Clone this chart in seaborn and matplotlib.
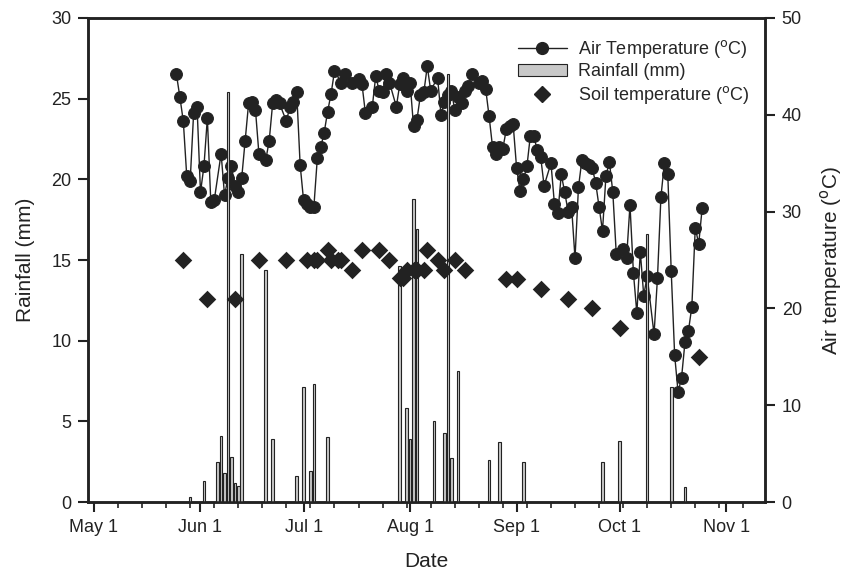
import numpy as np
import pandas as pd
import matplotlib
matplotlib.use('Agg')
import matplotlib.pyplot as plt
import seaborn as sns
from matplotlib.lines import Line2D
from matplotlib.patches import Patch

# Days counted from May 1
month_days = [0, 31, 61, 92, 123, 153, 184]
month_labels = ['May 1', 'Jun 1', 'Jul 1', 'Aug 1', 'Sep 1', 'Oct 1', 'Nov 1']

# Air temperature (left scale)
air_day = [24, 25, 26, 27, 28, 29, 30, 31, 32, 33, 34, 35, 37, 38, 39, 40, 41, 42, 43, 44,
           45, 46, 47, 48, 50, 51, 52, 53, 54, 56, 57, 58, 59, 60, 61, 62, 63, 64, 65, 66,
           67, 68, 69, 70, 72, 73, 75, 77, 78, 79, 81, 82, 83, 84, 85, 86, 88, 89, 90, 91,
           92, 93, 94, 95, 96, 97, 98, 100, 101, 102, 103, 104, 105, 106, 107, 108, 109, 110, 112, 113,
           114, 115, 116, 117, 118, 119, 120, 121, 122, 123, 124, 125, 126, 127, 128, 129, 130, 131, 133, 134,
           135, 136, 137, 138, 139, 140, 141, 142, 143, 144, 145, 146, 147, 148, 149, 150, 151, 152, 154, 155,
           156, 157, 158, 159, 160, 161, 163, 164, 165, 166, 167, 168, 169, 170, 171, 172, 173, 174, 175, 176,
           177]
air_temp = [26.5, 25.1, 23.6, 20.2, 19.9, 24.1, 24.5, 19.2, 20.8, 23.8, 18.6, 18.7, 21.6, 19.0, 20.1, 20.8, 19.6, 19.2, 20.1, 22.4,
            24.7, 24.8, 24.3, 21.6, 21.2, 22.4, 24.7, 24.9, 24.7, 23.6, 24.5, 24.8, 25.4, 20.9, 18.7, 18.5, 18.3, 18.3, 21.3, 22.0,
            22.9, 24.2, 25.3, 26.7, 26.0, 26.5, 26.0, 26.2, 25.9, 24.1, 24.5, 26.4, 25.5, 25.4, 26.5, 26.0, 24.5, 25.9, 26.3, 25.5,
            26.0, 23.3, 23.7, 25.2, 25.4, 27.0, 25.5, 26.3, 24.0, 24.8, 25.2, 25.5, 24.3, 25.1, 24.7, 25.5, 25.8, 26.5, 26.0, 26.1,
            25.6, 23.9, 22.0, 21.6, 22.0, 21.9, 23.1, 23.3, 23.4, 20.7, 19.3, 20.0, 20.8, 22.7, 22.7, 21.8, 21.4, 19.6, 21.0, 18.5,
            17.9, 20.3, 19.2, 18.0, 18.3, 15.1, 19.5, 21.2, 21.0, 20.9, 20.7, 19.8, 18.3, 16.8, 20.2, 21.1, 19.2, 15.4, 15.7, 15.1,
            18.4, 14.2, 11.7, 15.5, 12.8, 14.0, 10.4, 13.9, 18.9, 21.0, 20.3, 14.3, 9.1, 6.8, 7.7, 9.9, 10.6, 12.1, 17.0, 16.0,
            18.2]

# Rainfall (mm)
rain_day = [28, 32, 36, 37, 38, 39, 40, 41, 42, 43, 50, 52, 59, 61, 63, 64, 68, 89, 91, 92,
            93, 94, 99, 102, 103, 104, 106, 115, 118, 125, 148, 153, 161, 168, 172]
rain_mm = [0.3, 1.3, 2.5, 4.1, 1.8, 25.4, 2.8, 1.2, 1.0, 15.4, 14.4, 3.9, 1.6, 7.1, 1.9, 7.3, 4.0, 14.6, 5.8, 3.9,
           18.8, 16.9, 5.0, 4.3, 26.5, 2.7, 8.1, 2.6, 3.7, 2.5, 2.5, 3.8, 16.6, 7.1, 0.95]

# Soil temperature (right scale)
soil_day = [26, 33, 41, 48, 56, 62, 64, 65, 68, 69, 71, 72, 75, 78, 83, 86, 89, 90, 91, 93,
            94, 96, 97, 100, 102, 105, 108, 120, 123, 130, 138, 145, 153, 176]
soil_temp = [25, 21, 21, 25, 25, 25, 25, 25, 26, 25, 25, 25, 24, 26, 26, 25, 23.1, 23.1, 24, 24,
             24, 24, 26, 25, 24, 25, 24, 23, 23, 22, 21, 20, 18, 15]

sns.set_style('ticks')
plt.rcParams['font.family'] = ['Liberation Sans', 'DejaVu Sans']

fig = plt.figure(figsize=(8.59, 5.71), dpi=100)
ax = fig.add_axes([0.1024, 0.1208, 0.7882, 0.8477])
ax2 = ax.twinx()

dark = '#222222'

# rainfall bars
ax.bar(rain_day, rain_mm, width=0.75, color='#c8c8c8', edgecolor=dark,
       linewidth=0.8, zorder=4)

# air temperature line with markers
air = pd.DataFrame({'day': air_day, 'temp': air_temp})
sns.lineplot(data=air, x='day', y='temp', ax=ax, color=dark, linewidth=1,
             marker='o', markersize=8.5, markeredgecolor=dark, zorder=3)

# soil temperature diamonds
soil = pd.DataFrame({'day': soil_day, 'temp': soil_temp})
sns.scatterplot(data=soil, x='day', y='temp', ax=ax2, color=dark, marker='D',
                s=80, edgecolor=dark, linewidth=0, zorder=3)

ax.set_xlim(-1.75, 195.3)
ax.set_ylim(0, 30)
ax2.set_ylim(0, 50)
ax.set_yticks(np.arange(0, 31, 5))
ax2.set_yticks(np.arange(0, 51, 10))
ax.set_xticks(month_days)
ax.set_xticklabels(month_labels)
ax.set_xticks(np.arange(7, 192, 7), minor=True)

for a in (ax, ax2):
    for sp in a.spines.values():
        sp.set_linewidth(1.8)
        sp.set_color(dark)
        sp.set_visible(True)
    a.tick_params(which='major', direction='out', length=7, width=1.5, pad=5,
                  colors=dark, labelsize=13, labelcolor=dark)
    a.tick_params(which='minor', direction='out', length=4, width=1.2, colors=dark)
    a.grid(False)

ax.set_xlabel('Date', fontsize=15, color=dark, labelpad=12)
ax.set_ylabel('Rainfall (mm)', fontsize=15, color=dark, labelpad=12)
ax2.set_ylabel(r'Air temperature ($^{\mathrm{o}}$C)', fontsize=15, color=dark, labelpad=12)

handles = [
    Line2D([0], [0], color=dark, linewidth=1, marker='o', markersize=8.5),
    Patch(facecolor='#c8c8c8', edgecolor=dark, linewidth=0.8),
    Line2D([0], [0], color=dark, linestyle='none', marker='D', markersize=8),
]
labels = [r'Air Temperature ($^{\mathrm{o}}$C)', 'Rainfall (mm)',
          r'Soil temperature ($^{\mathrm{o}}$C)']
ax2.legend(handles, labels, loc='upper right', bbox_to_anchor=(0.995, 0.985),
           frameon=False, fontsize=13, handlelength=2.7, handletextpad=0.6,
           labelspacing=0.2, borderaxespad=0.3)

fig.savefig('out.png', dpi=100)
